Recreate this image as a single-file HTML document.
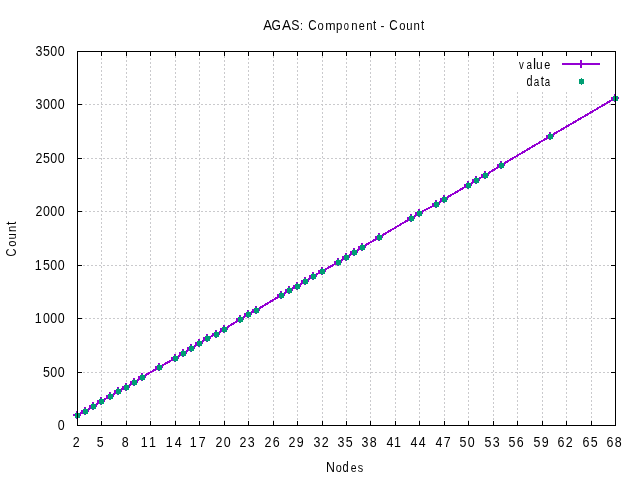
<!DOCTYPE html>
<html><head><meta charset="utf-8"><title>AGAS: Component - Count</title>
<style>html,body{margin:0;padding:0;background:#fff;overflow:hidden}svg{display:block}text{font-family:"Liberation Sans",sans-serif;font-size:13.33px;fill:#000}</style>
</head><body>
<svg width="640" height="480" viewBox="0 0 640 480">
<rect x="0" y="0" width="640" height="480" fill="#fff"/>
<g shape-rendering="crispEdges" stroke="#cacacd" stroke-width="1" stroke-dasharray="2 2" fill="none">
<line x1="101.5" y1="51" x2="101.5" y2="426" stroke-dashoffset="1"/>
<line x1="126.5" y1="51" x2="126.5" y2="426" stroke-dashoffset="3"/>
<line x1="150.5" y1="51" x2="150.5" y2="426" stroke-dashoffset="1"/>
<line x1="175.5" y1="51" x2="175.5" y2="426" stroke-dashoffset="3"/>
<line x1="199.5" y1="51" x2="199.5" y2="426" stroke-dashoffset="1"/>
<line x1="224.5" y1="51" x2="224.5" y2="426" stroke-dashoffset="3"/>
<line x1="248.5" y1="51" x2="248.5" y2="426" stroke-dashoffset="1"/>
<line x1="273.5" y1="51" x2="273.5" y2="426" stroke-dashoffset="3"/>
<line x1="297.5" y1="51" x2="297.5" y2="426" stroke-dashoffset="1"/>
<line x1="322.5" y1="51" x2="322.5" y2="426" stroke-dashoffset="3"/>
<line x1="346.5" y1="51" x2="346.5" y2="426" stroke-dashoffset="1"/>
<line x1="370.5" y1="51" x2="370.5" y2="426" stroke-dashoffset="3"/>
<line x1="395.5" y1="51" x2="395.5" y2="426" stroke-dashoffset="1"/>
<line x1="419.5" y1="51" x2="419.5" y2="426" stroke-dashoffset="3"/>
<line x1="444.5" y1="51" x2="444.5" y2="426" stroke-dashoffset="1"/>
<line x1="468.5" y1="51" x2="468.5" y2="426" stroke-dashoffset="3"/>
<line x1="493.5" y1="51" x2="493.5" y2="426" stroke-dashoffset="1"/>
<line x1="517.5" y1="92" x2="517.5" y2="426" stroke-dashoffset="0"/>
<line x1="542.5" y1="92" x2="542.5" y2="426" stroke-dashoffset="0"/>
<line x1="566.5" y1="92" x2="566.5" y2="426" stroke-dashoffset="0"/>
<line x1="591.5" y1="92" x2="591.5" y2="426" stroke-dashoffset="0"/>
<line x1="77" y1="372.5" x2="616" y2="372.5" stroke-dashoffset="2"/>
<line x1="77" y1="318.5" x2="616" y2="318.5" stroke-dashoffset="0"/>
<line x1="77" y1="265.5" x2="616" y2="265.5" stroke-dashoffset="2"/>
<line x1="77" y1="211.5" x2="616" y2="211.5" stroke-dashoffset="0"/>
<line x1="77" y1="158.5" x2="616" y2="158.5" stroke-dashoffset="2"/>
<line x1="77" y1="104.5" x2="616" y2="104.5" stroke-dashoffset="0"/>
</g>
<g shape-rendering="crispEdges" stroke="#000" stroke-width="1" fill="none">
<line x1="77.5" y1="426" x2="77.5" y2="421"/>
<line x1="77.5" y1="51" x2="77.5" y2="56"/>
<line x1="101.5" y1="426" x2="101.5" y2="421"/>
<line x1="101.5" y1="51" x2="101.5" y2="56"/>
<line x1="126.5" y1="426" x2="126.5" y2="421"/>
<line x1="126.5" y1="51" x2="126.5" y2="56"/>
<line x1="150.5" y1="426" x2="150.5" y2="421"/>
<line x1="150.5" y1="51" x2="150.5" y2="56"/>
<line x1="175.5" y1="426" x2="175.5" y2="421"/>
<line x1="175.5" y1="51" x2="175.5" y2="56"/>
<line x1="199.5" y1="426" x2="199.5" y2="421"/>
<line x1="199.5" y1="51" x2="199.5" y2="56"/>
<line x1="224.5" y1="426" x2="224.5" y2="421"/>
<line x1="224.5" y1="51" x2="224.5" y2="56"/>
<line x1="248.5" y1="426" x2="248.5" y2="421"/>
<line x1="248.5" y1="51" x2="248.5" y2="56"/>
<line x1="273.5" y1="426" x2="273.5" y2="421"/>
<line x1="273.5" y1="51" x2="273.5" y2="56"/>
<line x1="297.5" y1="426" x2="297.5" y2="421"/>
<line x1="297.5" y1="51" x2="297.5" y2="56"/>
<line x1="322.5" y1="426" x2="322.5" y2="421"/>
<line x1="322.5" y1="51" x2="322.5" y2="56"/>
<line x1="346.5" y1="426" x2="346.5" y2="421"/>
<line x1="346.5" y1="51" x2="346.5" y2="56"/>
<line x1="370.5" y1="426" x2="370.5" y2="421"/>
<line x1="370.5" y1="51" x2="370.5" y2="56"/>
<line x1="395.5" y1="426" x2="395.5" y2="421"/>
<line x1="395.5" y1="51" x2="395.5" y2="56"/>
<line x1="419.5" y1="426" x2="419.5" y2="421"/>
<line x1="419.5" y1="51" x2="419.5" y2="56"/>
<line x1="444.5" y1="426" x2="444.5" y2="421"/>
<line x1="444.5" y1="51" x2="444.5" y2="56"/>
<line x1="468.5" y1="426" x2="468.5" y2="421"/>
<line x1="468.5" y1="51" x2="468.5" y2="56"/>
<line x1="493.5" y1="426" x2="493.5" y2="421"/>
<line x1="493.5" y1="51" x2="493.5" y2="56"/>
<line x1="517.5" y1="426" x2="517.5" y2="421"/>
<line x1="517.5" y1="51" x2="517.5" y2="56"/>
<line x1="542.5" y1="426" x2="542.5" y2="421"/>
<line x1="542.5" y1="51" x2="542.5" y2="56"/>
<line x1="566.5" y1="426" x2="566.5" y2="421"/>
<line x1="566.5" y1="51" x2="566.5" y2="56"/>
<line x1="591.5" y1="426" x2="591.5" y2="421"/>
<line x1="591.5" y1="51" x2="591.5" y2="56"/>
<line x1="615.5" y1="426" x2="615.5" y2="421"/>
<line x1="615.5" y1="51" x2="615.5" y2="56"/>
<line x1="77" y1="425.5" x2="82" y2="425.5"/>
<line x1="616" y1="425.5" x2="611" y2="425.5"/>
<line x1="77" y1="372.5" x2="82" y2="372.5"/>
<line x1="616" y1="372.5" x2="611" y2="372.5"/>
<line x1="77" y1="318.5" x2="82" y2="318.5"/>
<line x1="616" y1="318.5" x2="611" y2="318.5"/>
<line x1="77" y1="265.5" x2="82" y2="265.5"/>
<line x1="616" y1="265.5" x2="611" y2="265.5"/>
<line x1="77" y1="211.5" x2="82" y2="211.5"/>
<line x1="616" y1="211.5" x2="611" y2="211.5"/>
<line x1="77" y1="158.5" x2="82" y2="158.5"/>
<line x1="616" y1="158.5" x2="611" y2="158.5"/>
<line x1="77" y1="104.5" x2="82" y2="104.5"/>
<line x1="616" y1="104.5" x2="611" y2="104.5"/>
<line x1="77" y1="51.5" x2="82" y2="51.5"/>
<line x1="616" y1="51.5" x2="611" y2="51.5"/>
</g>
<g shape-rendering="crispEdges">
<polyline points="77.50,415.00 85.50,411.00 93.50,406.00 101.50,401.00 110.50,396.00 118.50,391.00 126.50,387.00 134.50,382.00 142.50,377.00 159.50,367.00 175.50,358.00 183.50,353.00 191.50,348.00 199.50,343.00 207.50,338.00 216.50,334.00 224.50,329.00 240.50,319.00 248.50,314.00 256.50,310.00 281.50,295.00 289.50,290.00 297.50,286.00 305.50,281.00 313.50,276.00 322.50,271.00 338.50,262.00 346.50,257.00 354.50,252.00 362.50,247.00 379.50,237.00 411.50,218.00 419.50,213.00 436.50,204.00 444.50,199.00 468.50,185.00 476.50,180.00 485.50,175.00 501.50,165.00 550.50,136.00 615.50,98.00" fill="none" stroke="#9400d3" stroke-width="2" stroke-linejoin="round"/>
<rect x="73" y="414" width="8" height="2" fill="#9400d3"/>
<rect x="76" y="411" width="2" height="8" fill="#9400d3"/>
<rect x="81" y="410" width="8" height="2" fill="#9400d3"/>
<rect x="84" y="407" width="2" height="8" fill="#9400d3"/>
<rect x="89" y="405" width="8" height="2" fill="#9400d3"/>
<rect x="92" y="402" width="2" height="8" fill="#9400d3"/>
<rect x="97" y="400" width="8" height="2" fill="#9400d3"/>
<rect x="100" y="397" width="2" height="8" fill="#9400d3"/>
<rect x="106" y="395" width="8" height="2" fill="#9400d3"/>
<rect x="109" y="392" width="2" height="8" fill="#9400d3"/>
<rect x="114" y="390" width="8" height="2" fill="#9400d3"/>
<rect x="117" y="387" width="2" height="8" fill="#9400d3"/>
<rect x="122" y="386" width="8" height="2" fill="#9400d3"/>
<rect x="125" y="383" width="2" height="8" fill="#9400d3"/>
<rect x="130" y="381" width="8" height="2" fill="#9400d3"/>
<rect x="133" y="378" width="2" height="8" fill="#9400d3"/>
<rect x="138" y="376" width="8" height="2" fill="#9400d3"/>
<rect x="141" y="373" width="2" height="8" fill="#9400d3"/>
<rect x="155" y="366" width="8" height="2" fill="#9400d3"/>
<rect x="158" y="363" width="2" height="8" fill="#9400d3"/>
<rect x="171" y="357" width="8" height="2" fill="#9400d3"/>
<rect x="174" y="354" width="2" height="8" fill="#9400d3"/>
<rect x="179" y="352" width="8" height="2" fill="#9400d3"/>
<rect x="182" y="349" width="2" height="8" fill="#9400d3"/>
<rect x="187" y="347" width="8" height="2" fill="#9400d3"/>
<rect x="190" y="344" width="2" height="8" fill="#9400d3"/>
<rect x="195" y="342" width="8" height="2" fill="#9400d3"/>
<rect x="198" y="339" width="2" height="8" fill="#9400d3"/>
<rect x="203" y="337" width="8" height="2" fill="#9400d3"/>
<rect x="206" y="334" width="2" height="8" fill="#9400d3"/>
<rect x="212" y="333" width="8" height="2" fill="#9400d3"/>
<rect x="215" y="330" width="2" height="8" fill="#9400d3"/>
<rect x="220" y="328" width="8" height="2" fill="#9400d3"/>
<rect x="223" y="325" width="2" height="8" fill="#9400d3"/>
<rect x="236" y="318" width="8" height="2" fill="#9400d3"/>
<rect x="239" y="315" width="2" height="8" fill="#9400d3"/>
<rect x="244" y="313" width="8" height="2" fill="#9400d3"/>
<rect x="247" y="310" width="2" height="8" fill="#9400d3"/>
<rect x="252" y="309" width="8" height="2" fill="#9400d3"/>
<rect x="255" y="306" width="2" height="8" fill="#9400d3"/>
<rect x="277" y="294" width="8" height="2" fill="#9400d3"/>
<rect x="280" y="291" width="2" height="8" fill="#9400d3"/>
<rect x="285" y="289" width="8" height="2" fill="#9400d3"/>
<rect x="288" y="286" width="2" height="8" fill="#9400d3"/>
<rect x="293" y="285" width="8" height="2" fill="#9400d3"/>
<rect x="296" y="282" width="2" height="8" fill="#9400d3"/>
<rect x="301" y="280" width="8" height="2" fill="#9400d3"/>
<rect x="304" y="277" width="2" height="8" fill="#9400d3"/>
<rect x="309" y="275" width="8" height="2" fill="#9400d3"/>
<rect x="312" y="272" width="2" height="8" fill="#9400d3"/>
<rect x="318" y="270" width="8" height="2" fill="#9400d3"/>
<rect x="321" y="267" width="2" height="8" fill="#9400d3"/>
<rect x="334" y="261" width="8" height="2" fill="#9400d3"/>
<rect x="337" y="258" width="2" height="8" fill="#9400d3"/>
<rect x="342" y="256" width="8" height="2" fill="#9400d3"/>
<rect x="345" y="253" width="2" height="8" fill="#9400d3"/>
<rect x="350" y="251" width="8" height="2" fill="#9400d3"/>
<rect x="353" y="248" width="2" height="8" fill="#9400d3"/>
<rect x="358" y="246" width="8" height="2" fill="#9400d3"/>
<rect x="361" y="243" width="2" height="8" fill="#9400d3"/>
<rect x="375" y="236" width="8" height="2" fill="#9400d3"/>
<rect x="378" y="233" width="2" height="8" fill="#9400d3"/>
<rect x="407" y="217" width="8" height="2" fill="#9400d3"/>
<rect x="410" y="214" width="2" height="8" fill="#9400d3"/>
<rect x="415" y="212" width="8" height="2" fill="#9400d3"/>
<rect x="418" y="209" width="2" height="8" fill="#9400d3"/>
<rect x="432" y="203" width="8" height="2" fill="#9400d3"/>
<rect x="435" y="200" width="2" height="8" fill="#9400d3"/>
<rect x="440" y="198" width="8" height="2" fill="#9400d3"/>
<rect x="443" y="195" width="2" height="8" fill="#9400d3"/>
<rect x="464" y="184" width="8" height="2" fill="#9400d3"/>
<rect x="467" y="181" width="2" height="8" fill="#9400d3"/>
<rect x="472" y="179" width="8" height="2" fill="#9400d3"/>
<rect x="475" y="176" width="2" height="8" fill="#9400d3"/>
<rect x="481" y="174" width="8" height="2" fill="#9400d3"/>
<rect x="484" y="171" width="2" height="8" fill="#9400d3"/>
<rect x="497" y="164" width="8" height="2" fill="#9400d3"/>
<rect x="500" y="161" width="2" height="8" fill="#9400d3"/>
<rect x="546" y="135" width="8" height="2" fill="#9400d3"/>
<rect x="549" y="132" width="2" height="8" fill="#9400d3"/>
<rect x="611" y="97" width="8" height="2" fill="#9400d3"/>
<rect x="614" y="94" width="2" height="8" fill="#9400d3"/>
<rect x="562" y="63" width="38" height="2" fill="#9400d3"/>
<rect x="580" y="60" width="2" height="8" fill="#9400d3"/>
<rect x="75" y="413" width="5" height="5" fill="#009e73"/>
<rect x="77" y="412" width="1" height="7" fill="#009e73"/>
<rect x="83" y="409" width="5" height="5" fill="#009e73"/>
<rect x="85" y="408" width="1" height="7" fill="#009e73"/>
<rect x="91" y="404" width="5" height="5" fill="#009e73"/>
<rect x="93" y="403" width="1" height="7" fill="#009e73"/>
<rect x="99" y="399" width="5" height="5" fill="#009e73"/>
<rect x="101" y="398" width="1" height="7" fill="#009e73"/>
<rect x="108" y="394" width="5" height="5" fill="#009e73"/>
<rect x="110" y="393" width="1" height="7" fill="#009e73"/>
<rect x="116" y="389" width="5" height="5" fill="#009e73"/>
<rect x="118" y="388" width="1" height="7" fill="#009e73"/>
<rect x="124" y="385" width="5" height="5" fill="#009e73"/>
<rect x="126" y="384" width="1" height="7" fill="#009e73"/>
<rect x="132" y="380" width="5" height="5" fill="#009e73"/>
<rect x="134" y="379" width="1" height="7" fill="#009e73"/>
<rect x="140" y="375" width="5" height="5" fill="#009e73"/>
<rect x="142" y="374" width="1" height="7" fill="#009e73"/>
<rect x="157" y="365" width="5" height="5" fill="#009e73"/>
<rect x="159" y="364" width="1" height="7" fill="#009e73"/>
<rect x="173" y="356" width="5" height="5" fill="#009e73"/>
<rect x="175" y="355" width="1" height="7" fill="#009e73"/>
<rect x="181" y="351" width="5" height="5" fill="#009e73"/>
<rect x="183" y="350" width="1" height="7" fill="#009e73"/>
<rect x="189" y="346" width="5" height="5" fill="#009e73"/>
<rect x="191" y="345" width="1" height="7" fill="#009e73"/>
<rect x="197" y="341" width="5" height="5" fill="#009e73"/>
<rect x="199" y="340" width="1" height="7" fill="#009e73"/>
<rect x="205" y="336" width="5" height="5" fill="#009e73"/>
<rect x="207" y="335" width="1" height="7" fill="#009e73"/>
<rect x="214" y="332" width="5" height="5" fill="#009e73"/>
<rect x="216" y="331" width="1" height="7" fill="#009e73"/>
<rect x="222" y="327" width="5" height="5" fill="#009e73"/>
<rect x="224" y="326" width="1" height="7" fill="#009e73"/>
<rect x="238" y="317" width="5" height="5" fill="#009e73"/>
<rect x="240" y="316" width="1" height="7" fill="#009e73"/>
<rect x="246" y="312" width="5" height="5" fill="#009e73"/>
<rect x="248" y="311" width="1" height="7" fill="#009e73"/>
<rect x="254" y="308" width="5" height="5" fill="#009e73"/>
<rect x="256" y="307" width="1" height="7" fill="#009e73"/>
<rect x="279" y="293" width="5" height="5" fill="#009e73"/>
<rect x="281" y="292" width="1" height="7" fill="#009e73"/>
<rect x="287" y="288" width="5" height="5" fill="#009e73"/>
<rect x="289" y="287" width="1" height="7" fill="#009e73"/>
<rect x="295" y="284" width="5" height="5" fill="#009e73"/>
<rect x="297" y="283" width="1" height="7" fill="#009e73"/>
<rect x="303" y="279" width="5" height="5" fill="#009e73"/>
<rect x="305" y="278" width="1" height="7" fill="#009e73"/>
<rect x="311" y="274" width="5" height="5" fill="#009e73"/>
<rect x="313" y="273" width="1" height="7" fill="#009e73"/>
<rect x="320" y="269" width="5" height="5" fill="#009e73"/>
<rect x="322" y="268" width="1" height="7" fill="#009e73"/>
<rect x="336" y="260" width="5" height="5" fill="#009e73"/>
<rect x="338" y="259" width="1" height="7" fill="#009e73"/>
<rect x="344" y="255" width="5" height="5" fill="#009e73"/>
<rect x="346" y="254" width="1" height="7" fill="#009e73"/>
<rect x="352" y="250" width="5" height="5" fill="#009e73"/>
<rect x="354" y="249" width="1" height="7" fill="#009e73"/>
<rect x="360" y="245" width="5" height="5" fill="#009e73"/>
<rect x="362" y="244" width="1" height="7" fill="#009e73"/>
<rect x="377" y="235" width="5" height="5" fill="#009e73"/>
<rect x="379" y="234" width="1" height="7" fill="#009e73"/>
<rect x="409" y="216" width="5" height="5" fill="#009e73"/>
<rect x="411" y="215" width="1" height="7" fill="#009e73"/>
<rect x="417" y="211" width="5" height="5" fill="#009e73"/>
<rect x="419" y="210" width="1" height="7" fill="#009e73"/>
<rect x="434" y="202" width="5" height="5" fill="#009e73"/>
<rect x="436" y="201" width="1" height="7" fill="#009e73"/>
<rect x="442" y="197" width="5" height="5" fill="#009e73"/>
<rect x="444" y="196" width="1" height="7" fill="#009e73"/>
<rect x="466" y="183" width="5" height="5" fill="#009e73"/>
<rect x="468" y="182" width="1" height="7" fill="#009e73"/>
<rect x="474" y="178" width="5" height="5" fill="#009e73"/>
<rect x="476" y="177" width="1" height="7" fill="#009e73"/>
<rect x="483" y="173" width="5" height="5" fill="#009e73"/>
<rect x="485" y="172" width="1" height="7" fill="#009e73"/>
<rect x="499" y="163" width="5" height="5" fill="#009e73"/>
<rect x="501" y="162" width="1" height="7" fill="#009e73"/>
<rect x="548" y="134" width="5" height="5" fill="#009e73"/>
<rect x="550" y="133" width="1" height="7" fill="#009e73"/>
<rect x="613" y="96" width="5" height="5" fill="#009e73"/>
<rect x="615" y="95" width="1" height="7" fill="#009e73"/>
<rect x="579" y="79" width="5" height="5" fill="#009e73"/>
<rect x="581" y="78" width="1" height="7" fill="#009e73"/>
<rect x="77.5" y="51.5" width="538" height="374" fill="none" stroke="#000" stroke-width="1"/>
</g>
<g opacity="0.999">
<g aria-label="AGAS: Component - Count">
<text transform="matrix(0.9888,0,0,1.0750,263.13,30.00)">A</text>
<text transform="matrix(0.9078,0,0,1.0750,271.49,30.00)">G</text>
<text transform="matrix(1.0227,0,0,1.0750,282.03,30.00)">A</text>
<text transform="matrix(0.9252,0,0,1.0750,291.34,30.00)">S</text>
<text transform="matrix(0.7879,0,0,1.0000,300.04,30.00)">:</text>
<text transform="matrix(0.8647,0,0,1.0750,308.31,30.00)">C</text>
<text transform="matrix(0.8421,0,0,1.0000,317.53,30.00)">o</text>
<text transform="matrix(0.9315,0,0,1.0000,325.28,30.00)">m</text>
<text transform="matrix(0.8591,0,0,1.0000,336.11,30.00)">p</text>
<text transform="matrix(0.6991,0,0,1.0000,343.71,30.00)">o</text>
<text transform="matrix(0.8512,0,0,1.0000,351.30,30.00)">n</text>
<text transform="matrix(0.8154,0,0,1.0000,358.64,30.00)">e</text>
<text transform="matrix(0.8477,0,0,1.0000,366.25,30.00)">n</text>
<text transform="matrix(0.8519,0,0,1.0400,373.03,30.00)">t</text>
<text transform="matrix(0.8911,0,0,1.0000,380.57,30.00)">-</text>
<text transform="matrix(0.8707,0,0,1.0750,389.26,30.00)">C</text>
<text transform="matrix(0.8421,0,0,1.0000,399.33,30.00)">o</text>
<text transform="matrix(0.8477,0,0,1.0000,406.27,30.00)">u</text>
<text transform="matrix(0.8565,0,0,1.0000,413.49,30.00)">n</text>
<text transform="matrix(0.8519,0,0,1.0400,420.93,30.00)">t</text>
</g>
<g aria-label="0">
<text transform="matrix(0.9350,0,0,1.0750,57.78,429.90)">0</text>
</g>
<g aria-label="500">
<text transform="matrix(0.9350,0,0,1.0750,42.95,376.90)">5</text>
<text transform="matrix(0.9350,0,0,1.0750,50.36,376.90)">0</text>
<text transform="matrix(0.9350,0,0,1.0750,57.78,376.90)">0</text>
</g>
<g aria-label="1000">
<text transform="matrix(0.9350,0,0,1.0750,34.79,322.90)">1</text>
<text transform="matrix(0.9350,0,0,1.0750,42.95,322.90)">0</text>
<text transform="matrix(0.9350,0,0,1.0750,50.36,322.90)">0</text>
<text transform="matrix(0.9350,0,0,1.0750,57.78,322.90)">0</text>
</g>
<g aria-label="1500">
<text transform="matrix(0.9350,0,0,1.0750,34.79,269.90)">1</text>
<text transform="matrix(0.9350,0,0,1.0750,42.95,269.90)">5</text>
<text transform="matrix(0.9350,0,0,1.0750,50.36,269.90)">0</text>
<text transform="matrix(0.9350,0,0,1.0750,57.78,269.90)">0</text>
</g>
<g aria-label="2000">
<text transform="matrix(0.9350,0,0,1.0750,35.54,215.90)">2</text>
<text transform="matrix(0.9350,0,0,1.0750,42.95,215.90)">0</text>
<text transform="matrix(0.9350,0,0,1.0750,50.36,215.90)">0</text>
<text transform="matrix(0.9350,0,0,1.0750,57.78,215.90)">0</text>
</g>
<g aria-label="2500">
<text transform="matrix(0.9350,0,0,1.0750,35.54,162.90)">2</text>
<text transform="matrix(0.9350,0,0,1.0750,42.95,162.90)">5</text>
<text transform="matrix(0.9350,0,0,1.0750,50.36,162.90)">0</text>
<text transform="matrix(0.9350,0,0,1.0750,57.78,162.90)">0</text>
</g>
<g aria-label="3000">
<text transform="matrix(0.9350,0,0,1.0750,35.54,108.90)">3</text>
<text transform="matrix(0.9350,0,0,1.0750,42.95,108.90)">0</text>
<text transform="matrix(0.9350,0,0,1.0750,50.36,108.90)">0</text>
<text transform="matrix(0.9350,0,0,1.0750,57.78,108.90)">0</text>
</g>
<g aria-label="3500">
<text transform="matrix(0.9350,0,0,1.0750,35.54,55.90)">3</text>
<text transform="matrix(0.9350,0,0,1.0750,42.95,55.90)">5</text>
<text transform="matrix(0.9350,0,0,1.0750,50.36,55.90)">0</text>
<text transform="matrix(0.9350,0,0,1.0750,57.78,55.90)">0</text>
</g>
<g aria-label="2">
<text transform="matrix(0.9350,0,0,1.0750,72.68,446.80)">2</text>
</g>
<g aria-label="5">
<text transform="matrix(0.9350,0,0,1.0750,96.68,446.80)">5</text>
</g>
<g aria-label="8">
<text transform="matrix(0.9350,0,0,1.0750,121.68,446.80)">8</text>
</g>
<g aria-label="11">
<text transform="matrix(0.9350,0,0,1.0750,140.83,446.80)">1</text>
<text transform="matrix(0.9350,0,0,1.0750,148.94,446.80)">1</text>
</g>
<g aria-label="14">
<text transform="matrix(0.9350,0,0,1.0750,165.83,446.80)">1</text>
<text transform="matrix(0.9350,0,0,1.0750,174.69,446.80)">4</text>
</g>
<g aria-label="17">
<text transform="matrix(0.9350,0,0,1.0750,189.83,446.80)">1</text>
<text transform="matrix(0.9350,0,0,1.0750,198.69,446.80)">7</text>
</g>
<g aria-label="20">
<text transform="matrix(0.9350,0,0,1.0750,215.58,446.80)">2</text>
<text transform="matrix(0.9350,0,0,1.0750,223.69,446.80)">0</text>
</g>
<g aria-label="23">
<text transform="matrix(0.9350,0,0,1.0750,239.58,446.80)">2</text>
<text transform="matrix(0.9350,0,0,1.0750,247.69,446.80)">3</text>
</g>
<g aria-label="26">
<text transform="matrix(0.9350,0,0,1.0750,264.58,446.80)">2</text>
<text transform="matrix(0.9350,0,0,1.0750,272.69,446.80)">6</text>
</g>
<g aria-label="29">
<text transform="matrix(0.9350,0,0,1.0750,288.58,446.80)">2</text>
<text transform="matrix(0.9350,0,0,1.0750,296.69,446.80)">9</text>
</g>
<g aria-label="32">
<text transform="matrix(0.9350,0,0,1.0750,313.58,446.80)">3</text>
<text transform="matrix(0.9350,0,0,1.0750,321.69,446.80)">2</text>
</g>
<g aria-label="35">
<text transform="matrix(0.9350,0,0,1.0750,337.58,446.80)">3</text>
<text transform="matrix(0.9350,0,0,1.0750,345.69,446.80)">5</text>
</g>
<g aria-label="38">
<text transform="matrix(0.9350,0,0,1.0750,361.58,446.80)">3</text>
<text transform="matrix(0.9350,0,0,1.0750,369.69,446.80)">8</text>
</g>
<g aria-label="41">
<text transform="matrix(0.9350,0,0,1.0750,386.58,446.80)">4</text>
<text transform="matrix(0.9350,0,0,1.0750,393.94,446.80)">1</text>
</g>
<g aria-label="44">
<text transform="matrix(0.9350,0,0,1.0750,410.58,446.80)">4</text>
<text transform="matrix(0.9350,0,0,1.0750,418.69,446.80)">4</text>
</g>
<g aria-label="47">
<text transform="matrix(0.9350,0,0,1.0750,435.58,446.80)">4</text>
<text transform="matrix(0.9350,0,0,1.0750,443.69,446.80)">7</text>
</g>
<g aria-label="50">
<text transform="matrix(0.9350,0,0,1.0750,459.58,446.80)">5</text>
<text transform="matrix(0.9350,0,0,1.0750,467.69,446.80)">0</text>
</g>
<g aria-label="53">
<text transform="matrix(0.9350,0,0,1.0750,484.58,446.80)">5</text>
<text transform="matrix(0.9350,0,0,1.0750,492.69,446.80)">3</text>
</g>
<g aria-label="56">
<text transform="matrix(0.9350,0,0,1.0750,508.58,446.80)">5</text>
<text transform="matrix(0.9350,0,0,1.0750,516.69,446.80)">6</text>
</g>
<g aria-label="59">
<text transform="matrix(0.9350,0,0,1.0750,533.58,446.80)">5</text>
<text transform="matrix(0.9350,0,0,1.0750,541.69,446.80)">9</text>
</g>
<g aria-label="62">
<text transform="matrix(0.9350,0,0,1.0750,557.58,446.80)">6</text>
<text transform="matrix(0.9350,0,0,1.0750,565.69,446.80)">2</text>
</g>
<g aria-label="65">
<text transform="matrix(0.9350,0,0,1.0750,582.58,446.80)">6</text>
<text transform="matrix(0.9350,0,0,1.0750,590.69,446.80)">5</text>
</g>
<g aria-label="68">
<text transform="matrix(0.9350,0,0,1.0750,606.58,446.80)">6</text>
<text transform="matrix(0.9350,0,0,1.0750,614.69,446.80)">8</text>
</g>
<g aria-label="Nodes">
<text transform="matrix(0.9280,0,0,1.0750,326.08,472.00)">N</text>
<text transform="matrix(0.8167,0,0,1.0000,335.70,472.00)">o</text>
<text transform="matrix(0.8341,0,0,1.0600,342.53,472.00)">d</text>
<text transform="matrix(0.7834,0,0,1.0000,350.86,472.00)">e</text>
<text transform="matrix(0.8172,0,0,1.0000,357.85,472.00)">s</text>
</g>
<g aria-label="Count">
<text transform="translate(16.00,256.53) rotate(-90) scale(0.8363,1.0750)">C</text>
<text transform="translate(16.00,246.77) rotate(-90) scale(0.8421,1.0000)">o</text>
<text transform="translate(16.00,239.44) rotate(-90) scale(0.8565,1.0000)">u</text>
<text transform="translate(16.00,231.95) rotate(-90) scale(0.8477,1.0000)">n</text>
<text transform="translate(16.00,225.08) rotate(-90) scale(0.9107,1.0400)">t</text>
</g>
<g aria-label="value">
<text transform="matrix(0.7226,0,0,1.0000,518.97,69.20)">v</text>
<text transform="matrix(0.7448,0,0,1.0000,526.38,69.20)">a</text>
<text transform="matrix(1.0413,0,0,1.0600,532.92,69.20)">l</text>
<text transform="matrix(0.9006,0,0,1.0000,535.92,69.20)">u</text>
<text transform="matrix(0.8154,0,0,1.0000,544.34,69.20)">e</text>
</g>
<g aria-label="data">
<text transform="matrix(0.8174,0,0,1.0600,526.54,86.10)">d</text>
<text transform="matrix(0.7448,0,0,1.0000,533.78,86.10)">a</text>
<text transform="matrix(0.8813,0,0,1.0400,540.72,86.10)">t</text>
<text transform="matrix(0.7229,0,0,1.0000,544.79,86.10)">a</text>
</g>
</g>
</svg></body></html>
